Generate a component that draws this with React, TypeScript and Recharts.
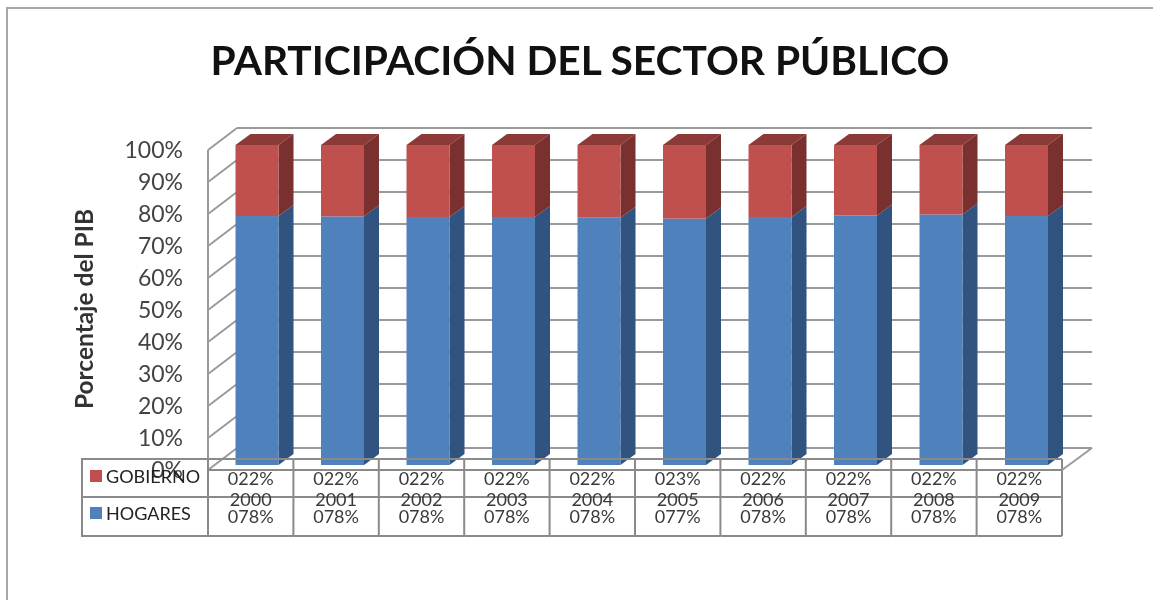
import { BarChart, Bar, CartesianGrid, Legend, XAxis, YAxis } from 'recharts'

const YEARS = ['2000', '2001', '2002', '2003', '2004', '2005', '2006', '2007', '2008', '2009']
const HOGARES = [77.8, 77.7, 77.5, 77.5, 77.3, 77.0, 77.5, 78.0, 78.3, 77.8]
const GOBIERNO = [22.2, 22.3, 22.5, 22.5, 22.7, 23.0, 22.5, 22.0, 21.7, 22.2]
const HOGARES_LABELS = ['078%', '078%', '078%', '078%', '078%', '077%', '078%', '078%', '078%', '078%']
const GOBIERNO_LABELS = ['022%', '022%', '022%', '022%', '022%', '023%', '022%', '022%', '022%', '022%']
const PERCENT_TICKS = [0, 10, 20, 30, 40, 50, 60, 70, 80, 90, 100]

const W = 1153
const H = 600
const FONT = 'Lato, "Open Sans", sans-serif'
const LINE = '#8a8a8a'
const GRID = '#9a9a9a'
const TEXT = '#3a3a3a'

// how far the 3d walls and bars are pushed back
const WALL_DX = 29
const WALL_DY = 22
const BAR_DX = 15
const BAR_DY = -11

const chartData = YEARS.map((year, i) => ({ year, hogares: HOGARES[i], gobierno: GOBIERNO[i] }))

const layer = { position: 'absolute', left: 0, top: 0 } as const

function Bar3D({ x, y, width, height, fill, side, top }: any) {
  const r = x + width
  return (
    <g>
      {top && (
        <polygon
          points={`${x},${y} ${x + BAR_DX},${y + BAR_DY} ${r + BAR_DX},${y + BAR_DY} ${r},${y}`}
          fill={top}
        />
      )}
      <polygon
        points={`${r},${y} ${r + BAR_DX},${y + BAR_DY} ${r + BAR_DX},${y + height + BAR_DY} ${r},${y + height}`}
        fill={side}
      />
      <rect x={x} y={y} width={width} height={height} fill={fill} />
    </g>
  )
}

function PercentTick({ x, y, payload }: any) {
  const frontX = x - WALL_DX
  const frontY = y + WALL_DY
  return (
    <g>
      <line x1={x} y1={y} x2={frontX} y2={frontY} stroke={GRID} strokeWidth={2} />
      {payload.value > 0 && (
        <line x1={frontX} y1={frontY} x2={frontX} y2={frontY + 32} stroke={GRID} strokeWidth={2} />
      )}
      <text
        x={183}
        y={y + 24}
        textAnchor="end"
        dominantBaseline="middle"
        fontFamily={FONT}
        fontSize={23}
        fill="#444"
      >
        {payload.value}%
      </text>
    </g>
  )
}

function TableTick({ x, y, index, payload }: any) {
  const half = 42.7
  const l = x - half
  const r = x + half
  const cell = { textAnchor: 'middle', fontFamily: FONT, fontSize: 18, fill: TEXT } as const
  return (
    <g>
      {index === 0 && (
        <g fill="none" stroke={LINE} strokeWidth={2}>
          <rect x={82} y={y} width={l - 82} height={77} />
          <line x1={82} y1={y + 38} x2={l} y2={y + 38} />
        </g>
      )}
      <g stroke={LINE} strokeWidth={2}>
        <line x1={l} y1={y} x2={r} y2={y} />
        <line x1={l} y1={y + 11} x2={r} y2={y + 11} />
        <line x1={l} y1={y + 38} x2={r} y2={y + 38} />
        <line x1={l} y1={y + 77} x2={r} y2={y + 77} />
        <line x1={r} y1={y} x2={r} y2={y + 77} />
      </g>
      {index === YEARS.length - 1 && (
        <line x1={r} y1={y + 11} x2={r + WALL_DX + 1} y2={y - 11} stroke={GRID} strokeWidth={2} />
      )}
      <text x={x} y={y + 26} {...cell}>{GOBIERNO_LABELS[index]}</text>
      <text x={x} y={y + 47} {...cell}>{payload.value}</text>
      <text x={x} y={y + 64} {...cell}>{HOGARES_LABELS[index]}</text>
    </g>
  )
}

function TableLegend({ payload }: any) {
  return (
    <div style={{ fontFamily: FONT, fontSize: 18, color: '#222' }}>
      {(payload ?? []).map((item: any, i: number) => (
        <div key={item.value} style={{ position: 'absolute', left: 0, top: i * 37 - 1, display: 'flex', alignItems: 'center', whiteSpace: 'nowrap' }}>
          <span style={{ width: 12, height: 12, background: item.color, marginRight: 4 }} />
          {item.value}
        </div>
      ))}
    </div>
  )
}

export default function App() {
  return (
    <div style={{ position: 'absolute', left: 0, top: 0, width: W, height: H, overflow: 'hidden', background: '#fff', filter: 'blur(0.6px)' }}>
      <div style={{ position: 'absolute', left: 6, top: 7, width: W - 8, height: H, border: '2px solid #a8a8a8' }} />
      <div
        style={{
          position: 'absolute', left: 0, top: 32, width: 1160, textAlign: 'center',
          fontFamily: FONT, fontWeight: 700, fontSize: 40.7, lineHeight: '56px', color: '#111', whiteSpace: 'nowrap',
        }}
      >
        PARTICIPACIÓN DEL SECTOR PÚBLICO
      </div>

      {/* back walls, percent axis */}
      <div style={layer}>
        <BarChart width={W} height={H} data={chartData} margin={{ top: 128, right: W - 1092, bottom: H - 448, left: 0 }}>
          <CartesianGrid horizontal vertical={false} stroke={GRID} strokeWidth={2} />
          <XAxis dataKey="year" hide />
          <YAxis
            domain={[0, 100]}
            ticks={PERCENT_TICKS}
            width={237}
            axisLine={false}
            tickLine={false}
            tickSize={0}
            tickMargin={0}
            interval={0}
            tick={PercentTick}
            label={({ viewBox }: any) => (
              <text
                transform={`translate(93, ${viewBox.y + viewBox.height / 2 + 21}) rotate(-90)`}
                textAnchor="middle"
                fontFamily={FONT}
                fontWeight={700}
                fontSize={24.5}
                fill="#333"
              >
                Porcentaje del PIB
              </text>
            )}
          />
          <Bar dataKey="hogares" fill="none" isAnimationActive={false} />
        </BarChart>
      </div>

      {/* columns */}
      <div style={layer}>
        <BarChart width={W} height={H} data={chartData} margin={{ top: 145, right: W - 1069.5, bottom: H - 465, left: 214.5 }}>
          <XAxis dataKey="year" hide />
          <YAxis domain={[0, 100]} hide />
          <Legend
            content={TableLegend}
            wrapperStyle={{ position: 'absolute', left: 90, top: 466, width: 118, height: 0 }}
          />
          <Bar
            dataKey="hogares"
            name="HOGARES"
            stackId="a"
            fill="#4f81bd"
            barSize={43}
            isAnimationActive={false}
            shape={(p: any) => <Bar3D {...p} fill="#4f81bd" side="#30537f" />}
          />
          <Bar
            dataKey="gobierno"
            name="GOBIERNO"
            stackId="a"
            fill="#c0504d"
            barSize={43}
            isAnimationActive={false}
            shape={(p: any) => <Bar3D {...p} fill="#c0504d" side="#7a302e" top="#8c3a38" />}
          />
        </BarChart>
      </div>

      {/* data table below the columns */}
      <div style={layer}>
        <BarChart width={W} height={H} data={chartData} margin={{ top: 145, right: W - 1062, bottom: 0, left: 208 }}>
          <XAxis
            dataKey="year"
            height={H - 459}
            axisLine={false}
            tickLine={false}
            tickSize={0}
            tickMargin={0}
            interval={0}
            tick={TableTick}
          />
          <YAxis domain={[0, 100]} hide />
        </BarChart>
      </div>
    </div>
  )
}
